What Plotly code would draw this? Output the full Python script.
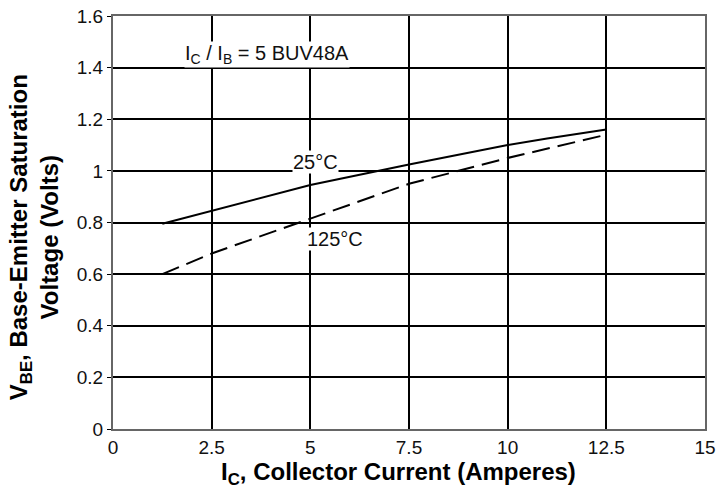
import plotly.graph_objects as go

ic = [1.25, 2.5, 5.0, 7.5, 10.0, 11.0, 12.5]
vbe_25 = [0.795, 0.846, 0.945, 1.025, 1.10, 1.125, 1.16]
vbe_125 = [0.60, 0.68, 0.815, 0.95, 1.05, 1.085, 1.14]

x_ticks = [0, 2.5, 5, 7.5, 10, 12.5, 15]
x_labels = ["0", "2.5", "5", "7.5", "10", "12.5", "15"]
y_ticks = [0, 0.2, 0.4, 0.6, 0.8, 1.0, 1.2, 1.4, 1.6]
y_labels = ["0", "0.2", "0.4", "0.6", "0.8", "1", "1.2", "1.4", "1.6"]

FONT = "Liberation Sans, Arial, sans-serif"

fig = go.Figure()
fig.add_trace(go.Scatter(x=ic, y=vbe_25, mode="lines", line=dict(color="black", width=2), showlegend=False))
fig.add_trace(go.Scatter(x=ic, y=vbe_125, mode="lines", line=dict(color="black", width=2, dash="18px,8px"), showlegend=False))

font_tick = dict(family=FONT, size=19, color="#111")

fig.add_annotation(x=3.9, y=1.45, text="I<sub>C</sub> / I<sub>B</sub> = 5 BUV48A", showarrow=False,
                   font=dict(family=FONT, size=20, color="#111"), bgcolor="white", borderpad=0)
fig.add_annotation(x=5.12, y=1.034, text="25°C", showarrow=False,
                   font=dict(family=FONT, size=20, color="#111"), bgcolor="white", borderpad=0)
fig.add_annotation(x=5.62, y=0.736, text="125°C", showarrow=False,
                   font=dict(family=FONT, size=20, color="#111"), bgcolor="white", borderpad=0)

fig.add_annotation(xref="paper", yref="paper", x=0.483, y=-0.107, yanchor="middle",
                   text="<b>I<sub>C</sub>, Collector Current (Amperes)</b>", showarrow=False,
                   font=dict(family=FONT, size=24, color="black"))
fig.add_annotation(xref="paper", yref="paper", x=-0.133, y=0.465, xanchor="center", yanchor="middle", textangle=-90,
                   text="<b>V<sub>BE</sub>, Base-Emitter Saturation<br>Voltage (Volts)</b>", showarrow=False,
                   font=dict(family=FONT, size=24, color="black"))

fig.update_xaxes(range=[0, 15], tickvals=x_ticks, ticktext=x_labels, showgrid=True, gridcolor="black", gridwidth=1.5,
                 zeroline=False, showline=True, linecolor="#666", linewidth=2, mirror=True,
                 ticks="", tickfont=font_tick, ticklabeloverflow="allow", automargin=False)
fig.update_yaxes(range=[0, 1.6], tickvals=y_ticks, ticktext=y_labels, showgrid=True, gridcolor="black", gridwidth=1.5,
                 zeroline=False, showline=True, linecolor="#666", linewidth=2, mirror=True,
                 ticks="outside", ticklen=4, tickcolor="black", tickfont=font_tick, ticklabeloverflow="allow",
                 automargin=False)

fig.update_layout(width=717, height=494, margin=dict(l=113, r=12, t=16, b=65, autoexpand=False),
                  plot_bgcolor="white", paper_bgcolor="white")

fig.write_html("out.html", config={"displayModeBar": False},
               post_script="document.body.style.margin='0';")
